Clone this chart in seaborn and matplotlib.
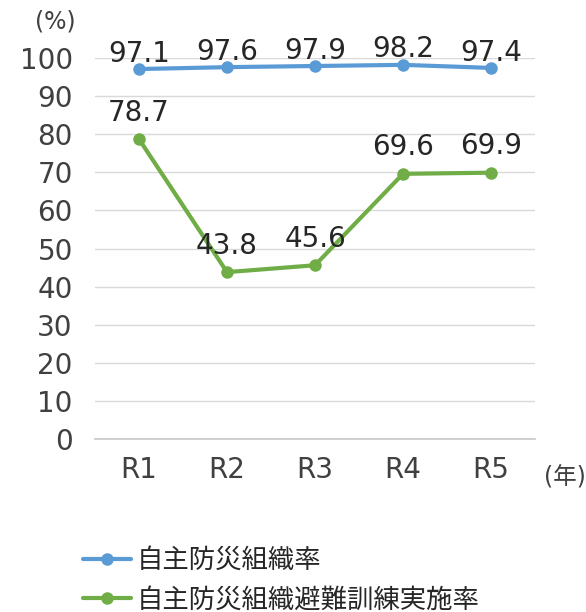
import matplotlib
matplotlib.use("Agg")
import matplotlib.pyplot as plt
import seaborn as sns
import pandas as pd

# data
years = ["R1", "R2", "R3", "R4", "R5"]
org_rate = [97.1, 97.6, 97.9, 98.2, 97.4]
drill_rate = [78.7, 43.8, 45.6, 69.6, 69.9]
series_names = ["自主防災組織率", "自主防災組織避難訓練実施率"]
colors = ["#5B9BD5", "#70AD47"]
yticks = list(range(0, 101, 10))

sns.set_style("white")
plt.rcParams['font.family'] = ['DejaVu Sans', 'Noto Sans CJK JP']

data = []
for name, values in zip(series_names, [org_rate, drill_rate]):
    for year, v in zip(years, values):
        data.append([name, year, v])
df = pd.DataFrame(data, columns=["series", "year", "value"])

fig = plt.figure(figsize=(5.86, 6.12), dpi=100)
ax = fig.add_axes([95 / 586, 1 - 439 / 612, 440 / 586, 381 / 612])

sns.lineplot(data=df, x="year", y="value", hue="series", palette=colors,
             marker="o", markersize=9, markeredgewidth=0, linewidth=3,
             ax=ax, legend=False)

# value labels above each point (blue ones sit closer to their line)
label_offsets = [1, 9]
for name, values, off in zip(series_names, [org_rate, drill_rate], label_offsets):
    for i, v in enumerate(values):
        ax.annotate(f"{v:.1f}", (i, v), xytext=(0, off), textcoords="offset points",
                    ha="center", va="bottom", fontsize=20, color="#262626")

ax.set_xlim(-0.5, len(years) - 0.5)
ax.set_ylim(0, 100)
ax.set_yticks(yticks)
ax.set_xticks(range(len(years)))
ax.set_xticks([i - 0.5 for i in range(len(years) + 1)], minor=True)
ax.set_xticklabels(years)
ax.set_xlabel("")
ax.set_ylabel("")
ax.grid(axis="y", color="#D9D9D9", linewidth=1)
ax.set_axisbelow(True)
for side in ["left", "right", "top"]:
    ax.spines[side].set_visible(False)
ax.spines["bottom"].set_color("#C8C8C8")
ax.spines["bottom"].set_linewidth(1.2)
ax.tick_params(axis="y", length=0, pad=16, labelsize=20, labelcolor="#404040")
ax.tick_params(axis="x", which="major", length=0, pad=12, labelsize=20, labelcolor="#404040")
ax.tick_params(axis="x", which="minor", length=6, color="#C8C8C8", width=1.2)

fig.text(55 / 586, 1 - 21 / 612, "(%)", ha="center", va="center", fontsize=17, color="#404040")
fig.text(544 / 586, 1 - 478 / 612, "(年)", ha="left", va="center", fontsize=17, color="#404040")

handles = ax.get_lines()[:2]
fig.legend(handles, series_names, loc="upper left", bbox_to_anchor=(83 / 586, 1 - 548 / 612),
           frameon=False, fontsize=19, handlelength=1.8, handletextpad=0.25,
           labelspacing=0.5, borderpad=0, borderaxespad=0)

fig.savefig("out.png", dpi=100)
